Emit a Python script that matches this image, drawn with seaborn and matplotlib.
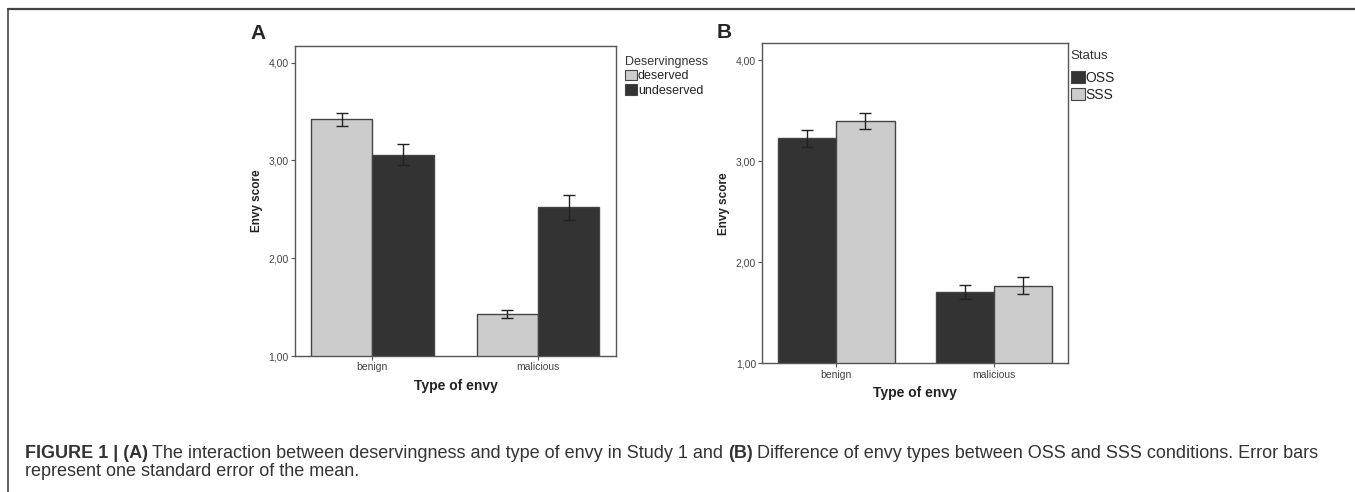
import numpy as np
import pandas as pd
import matplotlib
matplotlib.use("Agg")
import matplotlib.pyplot as plt
import seaborn as sns
from matplotlib.patches import Patch
from matplotlib.lines import Line2D

# data
envy_types = ["benign", "malicious"]

deserv_levels = ["deserved", "undeserved"]
deserv_mean = {"deserved": [3.42, 1.43], "undeserved": [3.06, 2.52]}
deserv_se = {"deserved": [0.068, 0.045], "undeserved": [0.11, 0.125]}

status_levels = ["OSS", "SSS"]
status_mean = {"OSS": [3.23, 1.71], "SSS": [3.40, 1.77]}
status_se = {"OSS": [0.085, 0.07], "SSS": [0.08, 0.085]}

ytick_vals = [1, 2, 3, 4]
ytick_labels = ["1,00", "2,00", "3,00", "4,00"]

light = "#cccccc"
dark = "#333333"

sns.set_theme(style="white")
plt.rcParams["font.family"] = ["Liberation Sans", "DejaVu Sans"]


def make_df(levels, means, ses, hue_name):
    rows = []
    for lev in levels:
        for t, m, s in zip(envy_types, means[lev], ses[lev]):
            rows.append({"Type of envy": t, hue_name: lev, "Envy score": m, "se": s})
    return pd.DataFrame(rows)


def panel(ax, df, hue_name, levels, colors, ses, legend_pos, title_size, item_size, spacing):
    sns.barplot(data=df, x="Type of envy", y="Envy score", hue=hue_name,
                hue_order=levels, order=envy_types, palette=colors,
                errorbar=None, width=0.74, edgecolor="#444444", linewidth=1.0,
                legend=False, ax=ax)
    for cont, lev in zip(ax.containers, levels):
        xs = [b.get_x() + b.get_width() / 2 for b in cont]
        ys = [b.get_height() for b in cont]
        ax.errorbar(xs, ys, yerr=ses[lev], fmt="none", ecolor="#222222",
                    elinewidth=1.0, capsize=4, capthick=1.0, zorder=5)
    ax.set_ylim(1.0, 4.17)
    ax.set_xlim(-0.467, 1.47)
    ax.set_yticks(ytick_vals)
    ax.set_yticklabels(ytick_labels)
    for sp in ax.spines.values():
        sp.set_color("#555555")
        sp.set_linewidth(1.0)
    ax.tick_params(axis="both", which="major", direction="out", length=3,
                   width=0.8, color="#555555", labelsize=7.5, labelcolor="#444444",
                   pad=1.5, left=True, bottom=True)
    ax.set_ylabel("Envy score", fontsize=8.5, fontweight="bold", color="#222222", labelpad=4)
    ax.set_xlabel("Type of envy", fontsize=10, fontweight="bold", color="#222222", labelpad=5)
    handles = [Patch(facecolor=colors[l], edgecolor="#444444", linewidth=0.8) for l in levels]
    leg = ax.legend(handles, levels, title=hue_name, loc="upper left",
                    bbox_to_anchor=legend_pos, frameon=False, fontsize=item_size,
                    title_fontsize=title_size, handlelength=1.0, handleheight=0.95,
                    handletextpad=0.05, labelspacing=spacing, borderaxespad=0,
                    alignment="left")
    leg.get_title().set_color("#333333")
    for txt in leg.get_texts():
        txt.set_color("#222222")


fig = plt.figure(figsize=(13.55, 4.92), dpi=100)
axA = fig.add_axes([0.2177, 0.2764, 0.2369, 0.6301])
axB = fig.add_axes([0.5626, 0.2616, 0.2258, 0.6504])

dfA = make_df(deserv_levels, deserv_mean, deserv_se, "Deservingness")
panel(axA, dfA, "Deservingness", deserv_levels,
      {"deserved": light, "undeserved": dark}, deserv_se, (1.012, 0.985), 9, 9, 0.15)

dfB = make_df(status_levels, status_mean, status_se, "Status")
panel(axB, dfB, "Status", status_levels,
      {"OSS": dark, "SSS": light}, status_se, (0.99, 0.995), 9.5, 10, 0.2)
axB.get_legend()._legend_box.sep = 6

fig.text(250 / 1355, 1 - 33 / 492, "A", fontsize=15, fontweight="bold", va="center", ha="left")
fig.text(717 / 1355, 1 - 32 / 492, "B", fontsize=15, fontweight="bold", va="center", ha="left")

# page frame lines
fig.add_artist(Line2D([8 / 1355, 1], [1 - 8.5 / 492, 1 - 8.5 / 492], color="#444444", lw=1.6))
fig.add_artist(Line2D([8 / 1355, 8 / 1355], [0, 1 - 8.5 / 492], color="#444444", lw=1.2))

cap_fs = 13
cap_y1 = 1 - 453 / 492
cap_y2 = 1 - 472 / 492
x0 = 25 / 1355
t = fig.text(x0, cap_y1, "FIGURE 1 | (A)", fontsize=cap_fs, fontweight="bold", color="#333333", va="center")
fig.canvas.draw()
r = fig.canvas.get_renderer()
bb = t.get_window_extent(r)
x1 = (bb.x1 + 4) / 1355
t2 = fig.text(x1, cap_y1, "The interaction between deservingness and type of envy in Study 1 and ",
              fontsize=cap_fs, color="#333333", va="center")
bb = t2.get_window_extent(r)
x2 = bb.x1 / 1355
t3 = fig.text(x2, cap_y1, "(B)", fontsize=cap_fs, fontweight="bold", color="#333333", va="center")
bb = t3.get_window_extent(r)
x3 = (bb.x1 + 4) / 1355
fig.text(x3, cap_y1, "Difference of envy types between OSS and SSS conditions. Error bars",
         fontsize=cap_fs, color="#333333", va="center")
fig.text(x0, cap_y2, "represent one standard error of the mean.", fontsize=cap_fs,
         color="#333333", va="center")

fig.savefig("out.png", dpi=100)
